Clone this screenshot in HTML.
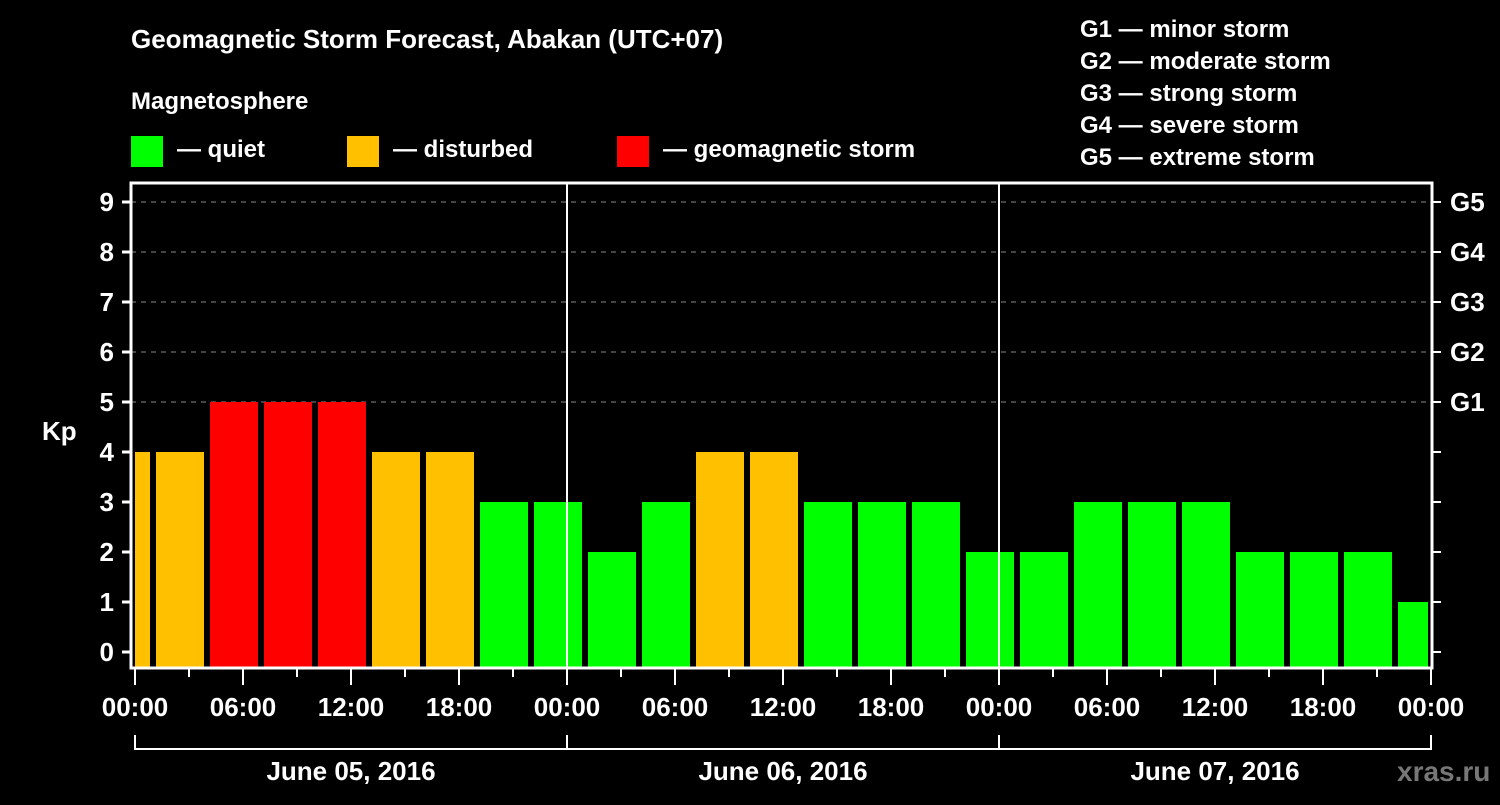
<!DOCTYPE html>
<html><head><meta charset="utf-8"><style>
body{margin:0;background:#000;width:1500px;height:800px;overflow:hidden}
svg text{font-family:"Liberation Sans",sans-serif;font-weight:bold;fill:#fff}
</style></head><body>
<svg id="chart" width="1500" height="800" xmlns="http://www.w3.org/2000/svg">
<text x="131" y="48" font-size="26">Geomagnetic Storm Forecast, Abakan (UTC+07)</text>
<text x="131" y="109" font-size="24">Magnetosphere</text>
<g>
<rect x="131" y="136" width="32" height="31" fill="#00ff00"/>
<text x="177" y="157" font-size="24">— quiet</text>
<rect x="347" y="136" width="32" height="31" fill="#ffc000"/>
<text x="393" y="157" font-size="24">— disturbed</text>
<rect x="617" y="136" width="32" height="31" fill="#ff0000"/>
<text x="663" y="157" font-size="24">— geomagnetic storm</text>
</g>
<g font-size="24">
<text x="1080" y="37">G1 — minor storm</text>
<text x="1080" y="69">G2 — moderate storm</text>
<text x="1080" y="101">G3 — strong storm</text>
<text x="1080" y="133">G4 — severe storm</text>
<text x="1080" y="165">G5 — extreme storm</text>
</g>
<text x="42" y="440" font-size="26">Kp</text>
<text x="1397" y="781" font-size="28" style="fill:#777">xras.ru</text>
<g id="grid"></g><g id="bars"></g><g id="axes"></g>
</svg>
<script>
const kpValues=[4,4,5,5,5,4,4,3,3,2,3,4,4,3,3,3,2,2,3,3,3,2,2,2,1];
const barStartHours=[-2,1,4,7,10,13,16,19,22,25,28,31,34,37,40,43,46,49,52,55,58,61,64,67,70];
const xTickLabels=["00:00","06:00","12:00","18:00","00:00","06:00","12:00","18:00","00:00","06:00","12:00","18:00","00:00"];
const dayLabels=["June 05, 2016","June 06, 2016","June 07, 2016"];
const gLabels=["G1","G2","G3","G4","G5"];
const NS="http://www.w3.org/2000/svg";
const X0=135,PXH=18,Y0=652,PXK=50,LEFT=131,RIGHT=1432,TOP=183,BOT=668;
const x=h=>X0+h*PXH, y=k=>Y0-k*PXK;
function mk(p,t,a){const e=document.createElementNS(NS,t);for(const k in a)e.setAttribute(k,a[k]);p.appendChild(e);return e;}
const grid=document.getElementById('grid'),bars=document.getElementById('bars'),axes=document.getElementById('axes');
for(let k=5;k<=9;k++){const l=mk(grid,'line',{x1:LEFT,x2:RIGHT,y1:y(k),y2:y(k),stroke:'#888','stroke-dasharray':'5,5','stroke-width':1});

}
function col(v){return v>=5?'#ff0000':v>=4?'#ffc000':'#00ff00';}
kpValues.forEach((v,i)=>{let a=x(barStartHours[i])+3,b=x(barStartHours[i]+3)-3;a=Math.max(a,LEFT+4);b=Math.min(b,RIGHT-4);
const r=mk(bars,'rect',{x:a,y:y(v),width:b-a,height:BOT-y(v),fill:col(v)});

});
[1,2].forEach(d=>{const l=mk(axes,'line',{x1:x(24*d),x2:x(24*d),y1:TOP,y2:BOT,stroke:'#fff','stroke-width':2});

});
const fr=mk(axes,'rect',{x:LEFT,y:TOP,width:RIGHT-LEFT,height:BOT-TOP,fill:'none',stroke:'#fff','stroke-width':3});


for(let k=0;k<=9;k++){
const t=mk(axes,'line',{x1:LEFT-9,x2:LEFT,y1:y(k),y2:y(k),stroke:'#fff','stroke-width':3});


const t2=mk(axes,'line',{x1:RIGHT,x2:RIGHT+9,y1:y(k),y2:y(k),stroke:'#fff','stroke-width':2});


const tl=mk(axes,'text',{x:114,y:y(k)+9,'font-size':26,'text-anchor':'end'});tl.textContent=String(k);

}
gLabels.forEach((g,i)=>{const t=mk(axes,'text',{x:1450,y:y(5+i)+9,'font-size':26});t.textContent=g;

});
for(let h=0;h<=72;h+=3){const big=h%6===0;const t=mk(axes,'line',{x1:x(h),x2:x(h),y1:BOT,y2:BOT+(big?17:9),stroke:'#fff','stroke-width':2});

}
xTickLabels.forEach((s,i)=>{const t=mk(axes,'text',{x:x(i*6),y:716,'font-size':26,'text-anchor':'middle'});t.textContent=s;

});
mk(axes,'path',{d:`M${x(0)} 735V749H${x(72)}V735`,stroke:'#fff','stroke-width':2,fill:'none'});
[1,2].forEach(d=>{const l=mk(axes,'line',{x1:x(24*d),x2:x(24*d),y1:735,y2:749,stroke:'#fff','stroke-width':2});

});
dayLabels.forEach((s,i)=>{const t=mk(axes,'text',{x:x(24*i+12),y:780,'font-size':26,'text-anchor':'middle'});t.textContent=s;

});
</script>
</body></html>
